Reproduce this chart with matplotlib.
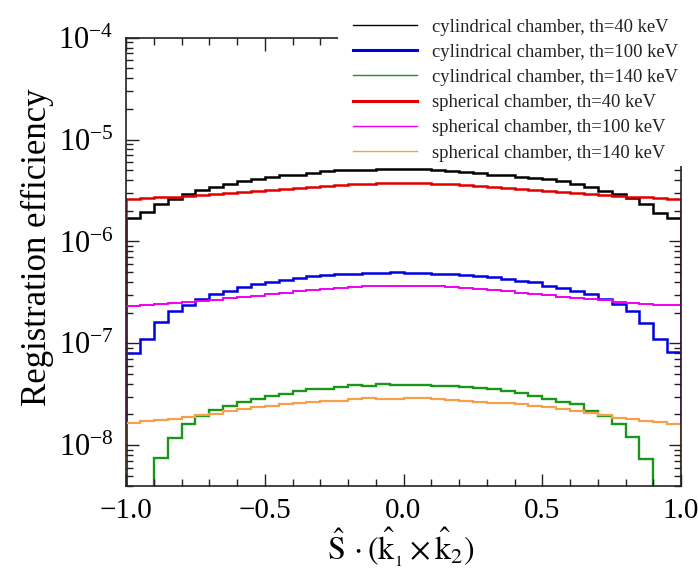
import numpy as np
import matplotlib
matplotlib.use("Agg")
import matplotlib.pyplot as plt
from matplotlib.ticker import LogLocator, NullFormatter, MultipleLocator, FuncFormatter
from matplotlib.lines import Line2D
from matplotlib.patches import Rectangle

# ---------------- data ----------------
bin_edges = np.linspace(-1.0, 1.0, 41)

cyl_40 = np.array([1.69, 1.94, 2.33, 2.61, 2.92, 3.21, 3.41, 3.68, 3.91, 4.09,
                   4.25, 4.51, 4.54, 4.69, 4.94, 5.05, 5.05, 5.05, 5.10, 5.16,
                   5.16, 5.13, 4.97, 4.86, 4.75, 4.68, 4.54, 4.44, 4.27, 4.18,
                   4.09, 3.88, 3.68, 3.46, 3.16, 2.94, 2.66, 2.33, 1.90, 1.69]) * 1e-6
cyl_100 = np.array([0.805, 1.11, 1.61, 2.09, 2.40, 2.74, 3.07, 3.29, 3.54, 3.82,
                    4.00, 4.21, 4.37, 4.54, 4.72, 4.82, 4.82, 4.90, 4.90, 4.97,
                    4.90, 4.90, 4.82, 4.79, 4.72, 4.61, 4.47, 4.28, 4.12, 3.97,
                    3.68, 3.49, 3.29, 3.05, 2.72, 2.43, 2.06, 1.58, 1.11, 0.817]) * 1e-7
cyl_140 = np.array([0.0, 0.0, 0.741, 1.18, 1.60, 1.93, 2.21, 2.41, 2.66, 2.85,
                    3.03, 3.19, 3.39, 3.57, 3.57, 3.73, 3.88, 3.79, 3.97, 3.88,
                    3.88, 3.88, 3.85, 3.79, 3.71, 3.60, 3.52, 3.39, 3.26, 3.07,
                    2.85, 2.66, 2.51, 2.16, 1.93, 1.63, 1.20, 0.735, 0.0, 0.0]) * 1e-8
sph_40 = np.array([2.60, 2.68, 2.72, 2.76, 2.81, 2.87, 2.91, 2.98, 3.05, 3.14,
                   3.21, 3.29, 3.36, 3.46, 3.54, 3.60, 3.65, 3.68, 3.71, 3.74,
                   3.74, 3.71, 3.68, 3.65, 3.60, 3.52, 3.44, 3.36, 3.29, 3.21,
                   3.14, 3.05, 2.98, 2.91, 2.84, 2.81, 2.76, 2.70, 2.65, 2.60]) * 1e-6
sph_100 = np.array([2.31, 2.36, 2.41, 2.47, 2.52, 2.60, 2.68, 2.76, 2.85, 2.94,
                    3.05, 3.14, 3.24, 3.34, 3.41, 3.49, 3.57, 3.62, 3.65, 3.68,
                    3.65, 3.65, 3.62, 3.57, 3.49, 3.41, 3.34, 3.24, 3.14, 3.05,
                    2.96, 2.87, 2.78, 2.72, 2.64, 2.56, 2.49, 2.43, 2.40, 2.36]) * 1e-7
sph_140 = np.array([1.66, 1.72, 1.76, 1.81, 1.90, 1.96, 2.03, 2.16, 2.24, 2.36,
                    2.41, 2.51, 2.60, 2.66, 2.70, 2.74, 2.81, 2.91, 2.85, 2.85,
                    2.89, 2.89, 2.85, 2.76, 2.70, 2.66, 2.60, 2.60, 2.54, 2.45,
                    2.36, 2.27, 2.16, 2.08, 1.97, 1.85, 1.79, 1.73, 1.68, 1.62]) * 1e-8

series = [cyl_40, cyl_100, cyl_140, sph_40, sph_100, sph_140]
labels = ["cylindrical chamber, th=40 keV",
          "cylindrical chamber, th=100 keV",
          "cylindrical chamber, th=140 keV",
          "spherical chamber, th=40 keV",
          "spherical chamber, th=100 keV",
          "spherical chamber, th=140 keV"]
colors = ["#000000", "#0000e0", "#1a961a", "#e00000", "#f000f0", "#f5a04a"]
plot_lw = [1.8, 1.8, 1.7, 1.8, 1.4, 1.6]
legend_lw = [1.0, 2.2, 1.0, 2.2, 1.0, 1.0]

x_label = r"$\hat{\mathrm{S}}\,\cdot(\hat{\mathrm{k}}_{_1}\times\hat{\mathrm{k}}_{2})$"
y_label = "Registration efficiency"

# ---------------- figure ----------------
plt.rcParams["font.family"] = ["Liberation Serif", "DejaVu Serif"]
plt.rcParams["mathtext.fontset"] = "stix"

W, H = 698, 571
fig = plt.figure(figsize=(W / 100, H / 100), dpi=100)
ax = fig.add_axes([126 / W, 1 - 485.7 / H, (681 - 126) / W, (485.7 - 37.7) / H])

ymin, ymax = 4.0e-9, 1.0e-4
for vals, c, lw in zip(series, colors, plot_lw):
    v = np.where(vals > 0, vals, 1e-12)
    ax.stairs(v, bin_edges, baseline=1e-12, color=c, lw=lw, fill=False)

ax.set_yscale("log")
ax.set_xlim(-1.0, 1.0)
ax.set_ylim(ymin, ymax)

ax.xaxis.set_major_locator(MultipleLocator(0.5))
ax.xaxis.set_minor_locator(MultipleLocator(0.1))
ax.xaxis.set_major_formatter(FuncFormatter(lambda x, p: f"{x:.1f}".replace("-", "\u2212")))
ax.yaxis.set_major_locator(LogLocator(base=10, numticks=20))
ax.yaxis.set_minor_locator(LogLocator(base=10, subs=np.arange(2, 10), numticks=20))
ax.yaxis.set_minor_formatter(NullFormatter())

ax.tick_params(which="both", direction="in", top=True, right=True, width=1.0, color="#222222")
ax.tick_params(which="major", length=9)
ax.tick_params(which="minor", length=5)
ax.tick_params(axis="x", which="major", labelsize=21, pad=9)
ax.tick_params(axis="y", which="major", labelsize=22, pad=9)
for s in ax.spines.values():
    s.set_linewidth(1.2)
    s.set_color("#222222")

ax.set_ylabel(y_label, fontsize=25)
ax.yaxis.set_label_coords(-0.13, 0.533)
ax.set_xlabel(x_label, fontsize=23)
ax.xaxis.set_label_coords(0.495, -0.088)

# white legend box covering the upper-right corner (as in the original)
fig.patches.append(Rectangle((338 / W, 1 - 166 / H), (W - 338) / W, 166 / H,
                             transform=fig.transFigure, facecolor="white",
                             edgecolor="none", zorder=3))

handles = [Line2D([], [], color=c, lw=lw) for c, lw in zip(colors, legend_lw)]
leg = fig.legend(handles, labels, loc="upper left",
                 bbox_to_anchor=(353 / W, 1 - 18.5 / H), bbox_transform=fig.transFigure,
                 frameon=False, fontsize=13.4, handlelength=3.44, handletextpad=0.8,
                 labelspacing=0.44, borderpad=0, borderaxespad=0)
leg.set_zorder(5)
for t in leg.get_texts():
    t.set_color("#222222")

fig.savefig("out.png", dpi=100)
